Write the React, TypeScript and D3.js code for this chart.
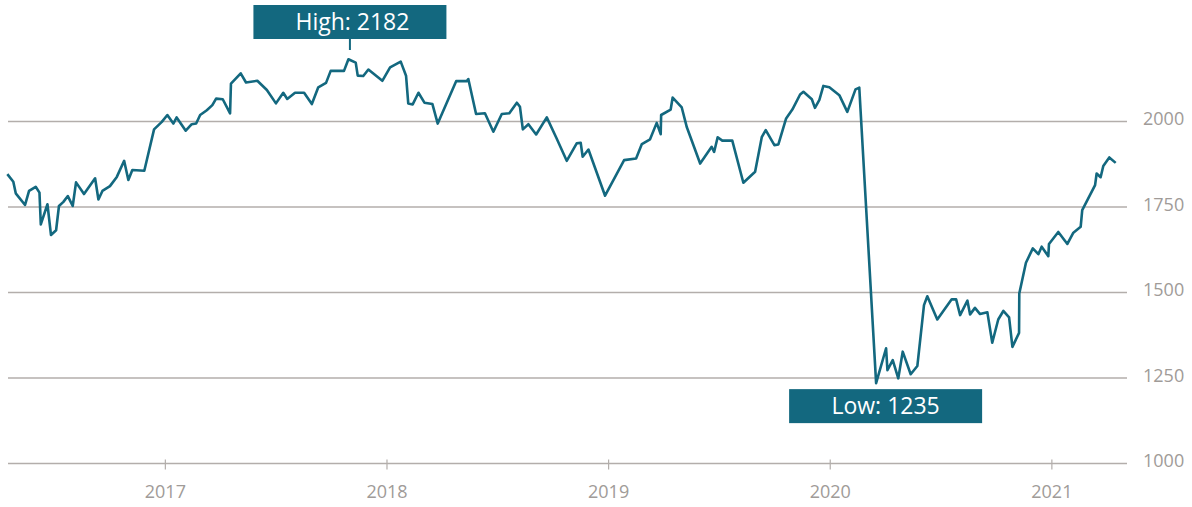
import React from "react";
import * as d3 from "d3";

// time in decimal years, value of the index
const times: number[] = [
  2016.287, 2016.314, 2016.325, 2016.367, 2016.385, 2016.415, 2016.432, 2016.438, 2016.468, 2016.484,
  2016.507, 2016.52, 2016.54, 2016.56, 2016.582, 2016.597, 2016.633, 2016.683, 2016.698, 2016.716,
  2016.75, 2016.781, 2016.814, 2016.833, 2016.851, 2016.905, 2016.949, 2016.984, 2017.009, 2017.036,
  2017.051, 2017.092, 2017.119, 2017.139, 2017.157, 2017.187, 2017.212, 2017.229, 2017.259, 2017.292,
  2017.296, 2017.34, 2017.364, 2017.415, 2017.458, 2017.499, 2017.532, 2017.55, 2017.585, 2017.626,
  2017.661, 2017.69, 2017.725, 2017.746, 2017.806, 2017.826, 2017.859, 2017.868, 2017.893, 2017.916,
  2017.979, 2018.014, 2018.062, 2018.086, 2018.096, 2018.116, 2018.142, 2018.169, 2018.205, 2018.229,
  2018.312, 2018.36, 2018.367, 2018.402, 2018.442, 2018.48, 2018.518, 2018.552, 2018.586, 2018.6,
  2018.613, 2018.638, 2018.673, 2018.721, 2018.763, 2018.811, 2018.856, 2018.874, 2018.883, 2018.909,
  2018.984, 2019.07, 2019.124, 2019.15, 2019.187, 2019.217, 2019.235, 2019.237, 2019.28, 2019.289,
  2019.33, 2019.353, 2019.413, 2019.465, 2019.476, 2019.492, 2019.513, 2019.558, 2019.608, 2019.661,
  2019.691, 2019.709, 2019.748, 2019.766, 2019.801, 2019.829, 2019.864, 2019.879, 2019.917, 2019.931,
  2019.951, 2019.969, 2019.996, 2020.041, 2020.077, 2020.114, 2020.131, 2020.207, 2020.252, 2020.258,
  2020.282, 2020.307, 2020.327, 2020.363, 2020.393, 2020.423, 2020.438, 2020.483, 2020.548, 2020.568,
  2020.586, 2020.619, 2020.631, 2020.653, 2020.676, 2020.709, 2020.731, 2020.758, 2020.781, 2020.807,
  2020.822, 2020.852, 2020.853, 2020.883, 2020.914, 2020.939, 2020.954, 2020.984, 2020.987, 2021.029,
  2021.07, 2021.097, 2021.13, 2021.137, 2021.195, 2021.202, 2021.22, 2021.232, 2021.259, 2021.288,
];

const values: number[] = [
  1846, 1824, 1790, 1756, 1797, 1809, 1792, 1699, 1758, 1668,
  1682, 1753, 1765, 1782, 1753, 1822, 1788, 1834, 1772, 1797,
  1811, 1838, 1885, 1829, 1858, 1856, 1977, 1999, 2019, 1994,
  2012, 1973, 1992, 1994, 2019, 2033, 2048, 2067, 2065, 2024,
  2111, 2141, 2114, 2119, 2092, 2053, 2084, 2066, 2084, 2084,
  2051, 2100, 2113, 2148, 2148, 2182, 2172, 2134, 2133, 2152,
  2119, 2158, 2175, 2134, 2053, 2050, 2084, 2055, 2051, 1994,
  2118, 2118, 2124, 2022, 2024, 1970, 2022, 2024, 2055, 2043,
  1977, 1992, 1962, 2012, 1954, 1885, 1936, 1938, 1897, 1918,
  1783, 1887, 1892, 1934, 1948, 1996, 1963, 2019, 2035, 2070,
  2041, 1983, 1877, 1926, 1911, 1954, 1944, 1944, 1821, 1853,
  1954, 1975, 1931, 1933, 2009, 2035, 2079, 2087, 2065, 2040,
  2063, 2104, 2100, 2077, 2028, 2094, 2099, 1235, 1337, 1273,
  1302, 1249, 1327, 1261, 1285, 1463, 1489, 1421, 1480, 1480,
  1434, 1476, 1436, 1455, 1437, 1442, 1353, 1421, 1446, 1427,
  1341, 1382, 1497, 1587, 1629, 1612, 1634, 1606, 1642, 1677,
  1642, 1675, 1692, 1741, 1814, 1848, 1837, 1870, 1895, 1879,
];

const yearTicks: number[] = [2017, 2018, 2019, 2020, 2021];
const valueTicks: number[] = [1000, 1250, 1500, 1750, 2000];
const highLabel = "High: 2182";
const lowLabel = "Low: 1235";

const W = 1192;
const H = 507;
const TEAL = "#13687f";
const GRID = "#b3aeab";
const TEXT = "#a09b98";
const FONT = "'Open Sans', 'Noto Sans', sans-serif";

export default function App() {
  const x = d3.scaleLinear().domain([2016.29, 2021.339]).range([8, 1127]);
  const y = d3.scaleLinear().domain([1000, 2000]).range([463.5, 121.5]);

  const pts = times.map((t, i) => ({ t, v: values[i] }));
  const line = d3
    .line<{ t: number; v: number }>()
    .x((d) => x(d.t))
    .y((d) => y(d.v));

  const hiIdx = d3.maxIndex(values);
  const loIdx = d3.minIndex(values);
  const hx = x(times[hiIdx]);
  const lx = x(times[loIdx]);
  const ly = y(values[loIdx]);

  const boxW = 193;
  const boxH = 34;

  return (
    <svg
      width={W}
      height={H}
      style={{ position: "absolute", left: 0, top: 0, display: "block" }}
      fontFamily={FONT}
    >
      <rect x={0} y={0} width={W} height={H} fill="#fff" />
      {valueTicks.map((v) => (
        <g key={v}>
          <line x1={8} x2={1127} y1={y(v)} y2={y(v)} stroke={GRID} strokeWidth={1.4} />
          <text x={1143} y={y(v) + 3.5} fontSize={18} fill={TEXT}>
            {v}
          </text>
        </g>
      ))}
      {yearTicks.map((t) => (
        <g key={t}>
          <line x1={x(t)} x2={x(t)} y1={y(1000) - 4} y2={y(1000) + 6} stroke={GRID} strokeWidth={1.2} />
          <text x={x(t)} y={498} fontSize={18} fill={TEXT} textAnchor="middle">
            {t}
          </text>
        </g>
      ))}
      <path d={line(pts) || ""} fill="none" stroke={TEAL} strokeWidth={2.6} strokeLinejoin="round" />

      {/* High annotation */}
      <line x1={hx + 1.5} x2={hx + 1.5} y1={39} y2={50} stroke={TEAL} strokeWidth={2} />
      <rect x={hx + 1.5 - boxW / 2} y={5} width={boxW} height={boxH} fill={TEAL} />
      <text x={hx + 4} y={30} fontSize={23} fill="#fff" textAnchor="middle">
        {highLabel}
      </text>

      {/* Low annotation */}
      <rect x={lx + 9.5 - boxW / 2} y={ly + 6} width={boxW} height={boxH} fill={TEAL} />
      <text x={lx + 9.5} y={ly + 31} fontSize={23} fill="#fff" textAnchor="middle">
        {lowLabel}
      </text>
    </svg>
  );
}
